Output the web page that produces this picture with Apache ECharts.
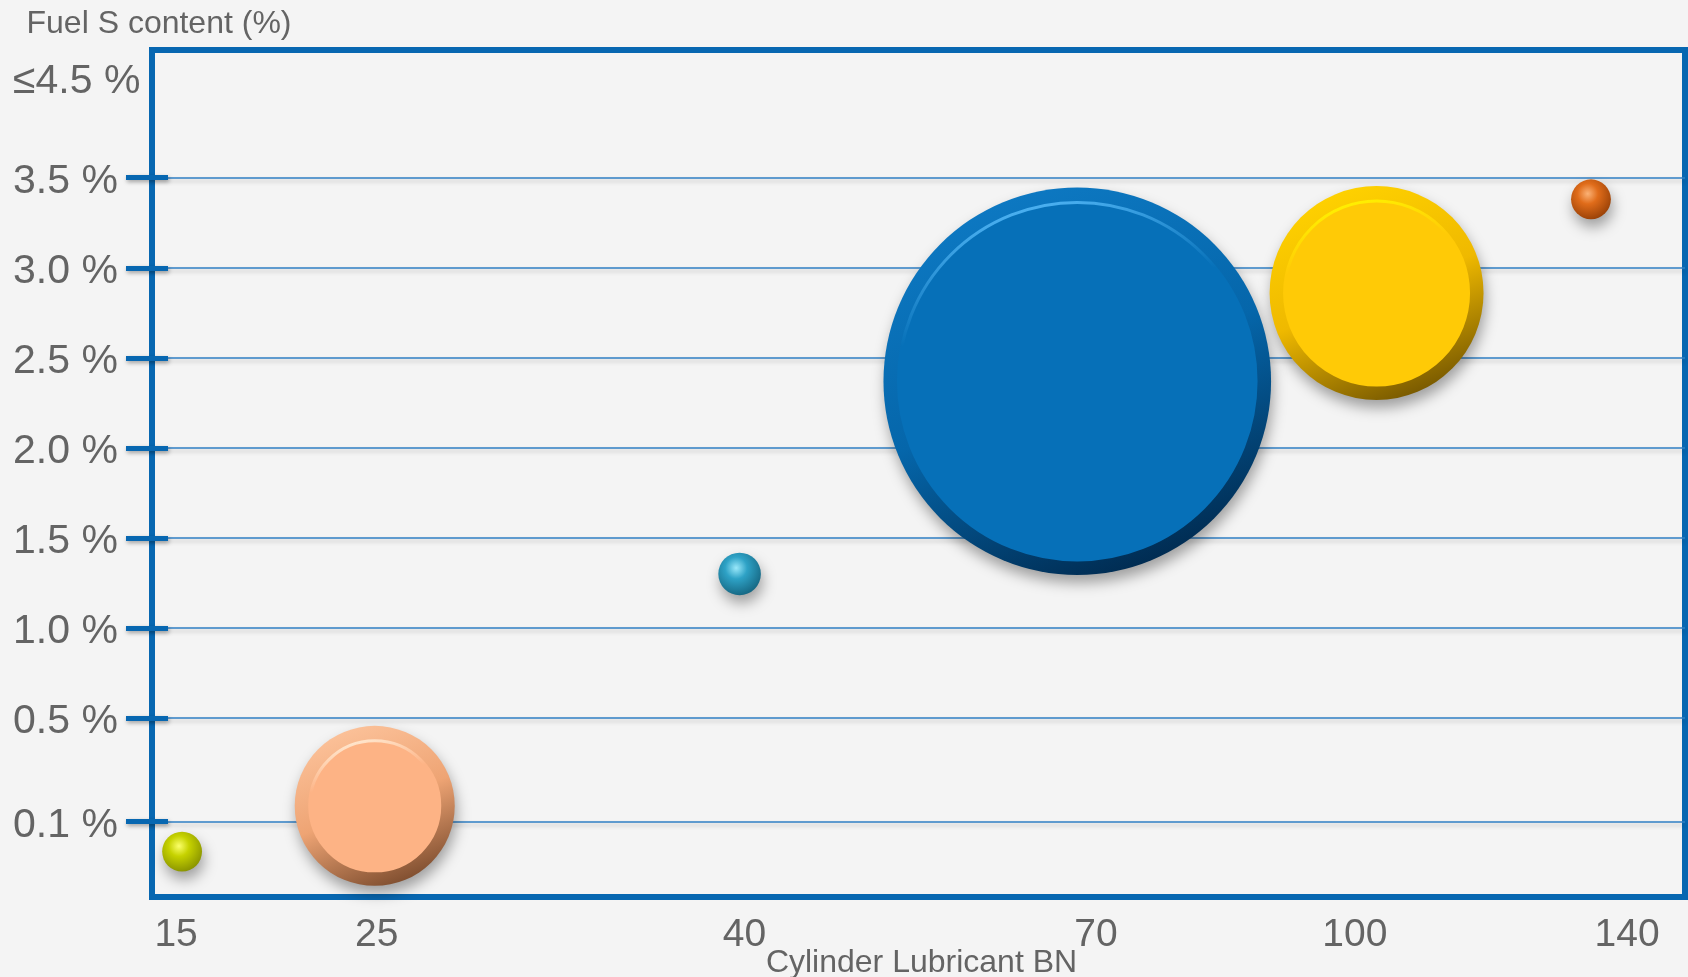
<!DOCTYPE html>
<html>
<head>
<meta charset="utf-8">
<title>Cylinder lubricant BN vs fuel sulphur content</title>
<script src="https://cdn.jsdelivr.net/npm/echarts@6/dist/echarts.min.js"></script>
<style>
  html, body { margin: 0; padding: 0; background: #f4f4f4; }
  #chart { width: 1688px; height: 977px; }
</style>
</head>
<body>
<div id="chart"></div>
<script>
// ---- tick labels -------------------------------------------------------
const bnTicks = [15, 25, 40, 70, 100, 140];
const bnTickLabels = ['15', '25', '40', '70', '100', '140'];
const sulphurTicks = [0.1, 0.5, 1.0, 1.5, 2.0, 2.5, 3.0, 3.5, 4.5];
const sulphurTickLabels = ['0.1 %', '0.5 %', '1.0 %', '1.5 %', '2.0 %', '2.5 %', '3.0 %', '3.5 %', '≤4.5 %'];

// ---- bubbles: cylinder oil BN, fuel S content (%), share of consumption (%)
const lubricantBN      = [15.3, 24.9, 39.8, 68.4, 103.2, 134.7];
const fuelSulphur      = [0.06, 0.16, 1.30, 2.37, 2.86, 3.38];
const consumptionShare = [0.7, 11.3, 0.8, 66.3, 20.2, 0.7];

// ---- axis rulers ---------------------------------------------------------
// Both axes are broken/uneven scales: each tick sits at a fixed point along
// the axis (per-mille of axis length) and values in between are interpolated.
const AXIS_SPAN = 1000;
const bnRulerAt = [15.7, 146.6, 386.5, 615.8, 784.6, 962.2];
// the fuel axis starts at 0 % on the bottom edge
const sulphurRulerValues = [0].concat(sulphurTicks);
const sulphurRulerAt = [0, 89.3, 211.3, 317.6, 424.0, 530.3, 636.6, 742.9, 849.3, 967.5];
// fuel labels sit a little below their tick marks
const SULPHUR_LABEL_DROP = 4.7;

function ruler(values, at) {
  return function (v) {
    let i = 0;
    while (i < values.length - 2 && v > values[i + 1]) i++;
    const t = (v - values[i]) / (values[i + 1] - values[i]);
    return at[i] + t * (at[i + 1] - at[i]);
  };
}
const bnToAxis = ruler(bnTicks, bnRulerAt);
const sulphurToAxis = ruler(sulphurRulerValues, sulphurRulerAt);

const bnTickPos = bnTicks.map(bnToAxis);
const sulphurTickPos = sulphurTicks.map(sulphurToAxis);
const sulphurLabelPos = sulphurTickPos.map((p) => p - SULPHUR_LABEL_DROP);
// the top label ("≤4.5 %") carries no tick mark or grid line
const sulphurMarkedPos = sulphurTickPos.slice(0, sulphurTicks.length - 1);

function labelFor(positions, labels) {
  return function (v) {
    let best = 0;
    positions.forEach((p, i) => { if (Math.abs(p - v) < Math.abs(positions[best] - v)) best = i; });
    return labels[best];
  };
}

// ---- styling ----------------------------------------------------------------
const FRAME_BLUE = '#0767b1';
const TEXT_GREY = '#646464';
const FONT = '"Liberation Sans", Arial, sans-serif';
const SIZE_K = 47.6;          // bubble diameter per sqrt(share)
const RIM = 30;               // rim width (both sides) of the flat discs

const bubbleLooks = [
  { kind: 'sphere', base: '#c6d200', light: '#fbff6a', dark: '#869000' },
  { kind: 'disc',   face: '#fdb385', light: '#fcc29a', mid: '#eea474', dark: '#7a4a2c', glint: '#ffe8d0' },
  { kind: 'sphere', base: '#2ea2c6', light: '#9ae8fa', dark: '#15647f' },
  { kind: 'disc',   face: '#0670b8', light: '#0d79c3', mid: '#0566aa', dark: '#00284c', glint: '#4fb4f4' },
  { kind: 'disc',   face: '#ffca06', light: '#ffd200', mid: '#efb900', dark: '#725400', glint: '#fff100' },
  { kind: 'sphere', base: '#e06c1a', light: '#fbb276', dark: '#963f06' }
];

function rimColor(look) {
  if (look.kind === 'sphere') {
    return new echarts.graphic.RadialGradient(0.42, 0.36, 0.68, [
      { offset: 0, color: look.light },
      { offset: 0.38, color: look.base },
      { offset: 1, color: look.dark }
    ]);
  }
  return new echarts.graphic.LinearGradient(0.3, 0, 0.7, 1, [
    { offset: 0, color: look.light },
    { offset: 0.5, color: look.mid },
    { offset: 1, color: look.dark }
  ]);
}

const rimData = lubricantBN.map((bn, i) => ({
  value: [bnToAxis(bn), sulphurToAxis(fuelSulphur[i]), consumptionShare[i]],
  itemStyle: { color: rimColor(bubbleLooks[i]) }
}));

const faceData = [];
lubricantBN.forEach((bn, i) => {
  const look = bubbleLooks[i];
  if (look.kind !== 'disc') return;
  faceData.push({
    value: [bnToAxis(bn), sulphurToAxis(fuelSulphur[i]), consumptionShare[i]],
    itemStyle: {
      color: look.face,
      borderWidth: 3,
      borderColor: new echarts.graphic.LinearGradient(0.35, 0, 0.6, 1, [
        { offset: 0, color: look.glint },
        { offset: 0.3, color: look.face },
        { offset: 1, color: look.face }
      ])
    }
  });
});

const tickShadow = { shadowColor: 'rgba(0,0,0,0.35)', shadowBlur: 4, shadowOffsetX: 1, shadowOffsetY: 2 };

const option = {
  backgroundColor: '#f4f4f4',
  animation: false,
  textStyle: { fontFamily: FONT },
  grid: {
    left: 152, right: 3, top: 50, bottom: 80,
    show: true,
    borderColor: FRAME_BLUE,
    borderWidth: 6,
    backgroundColor: 'transparent',
    outerBoundsMode: 'none'
  },
  xAxis: {
    type: 'value',
    min: 0, max: AXIS_SPAN,
    axisLine: { show: false },
    axisTick: { show: false },
    splitLine: { show: false },
    axisLabel: {
      customValues: bnTickPos,
      formatter: labelFor(bnTickPos, bnTickLabels),
      fontSize: 39,
      color: TEXT_GREY,
      fontFamily: FONT,
      verticalAlign: 'middle',
      margin: 38
    },
    name: 'Cylinder Lubricant BN',
    nameLocation: 'middle',
    nameGap: 50,
    nameMoveOverlap: false,
    nameTextStyle: {
      fontSize: 32, color: TEXT_GREY, fontFamily: FONT,
      verticalAlign: 'top', padding: [0, 0, 0, 6]
    }
  },
  yAxis: [
    {
      type: 'value',
      min: 0, max: AXIS_SPAN,
      position: 'left',
      axisLine: { show: false },
      axisTick: {
        show: true, inside: false, length: 26,
        customValues: sulphurMarkedPos,
        lineStyle: Object.assign({ color: FRAME_BLUE, width: 5 }, tickShadow)
      },
      splitLine: {
        show: true,
        lineStyle: {
          color: '#2f7fc4', width: 1.5,
          shadowColor: 'rgba(0,0,0,0.22)', shadowBlur: 4, shadowOffsetY: 3
        }
      },
      axisLabel: {
        customValues: sulphurLabelPos,
        formatter: labelFor(sulphurLabelPos, sulphurTickLabels),
        align: 'left',
        margin: 139,
        fontSize: 41,
        color: TEXT_GREY,
        fontFamily: FONT
      },
      name: 'Fuel S content (%)',
      nameLocation: 'end',
      nameGap: 26,
      nameMoveOverlap: false,
      nameTextStyle: {
        fontSize: 32, color: TEXT_GREY, fontFamily: FONT,
        verticalAlign: 'middle', padding: [0, 0, 0, 14]
      }
    },
    {
      type: 'value',
      min: 0, max: AXIS_SPAN,
      position: 'left',
      axisLine: { show: false },
      axisTick: {
        show: true, inside: true, length: 16,
        customValues: sulphurMarkedPos,
        lineStyle: Object.assign({ color: FRAME_BLUE, width: 5 }, tickShadow)
      },
      splitLine: { show: false },
      axisLabel: { show: false }
    }
  ],
  series: [
    {
      name: 'rim',
      type: 'scatter',
      yAxisIndex: 0,
      symbol: 'circle',
      symbolSize: (val) => SIZE_K * Math.sqrt(val[2]),
      data: rimData,
      itemStyle: {
        opacity: 1,
        shadowColor: 'rgba(0,0,0,0.35)', shadowBlur: 14, shadowOffsetX: 2, shadowOffsetY: 8
      },
      emphasis: { disabled: true },
      z: 3
    },
    {
      name: 'face',
      type: 'scatter',
      yAxisIndex: 0,
      symbol: 'circle',
      symbolSize: (val) => SIZE_K * Math.sqrt(val[2]) - RIM,
      data: faceData,
      itemStyle: { opacity: 1 },
      emphasis: { disabled: true },
      z: 4
    }
  ]
};

const chart = echarts.init(document.getElementById('chart'), null, { renderer: 'canvas' });
chart.setOption(option);
</script>
</body>
</html>
